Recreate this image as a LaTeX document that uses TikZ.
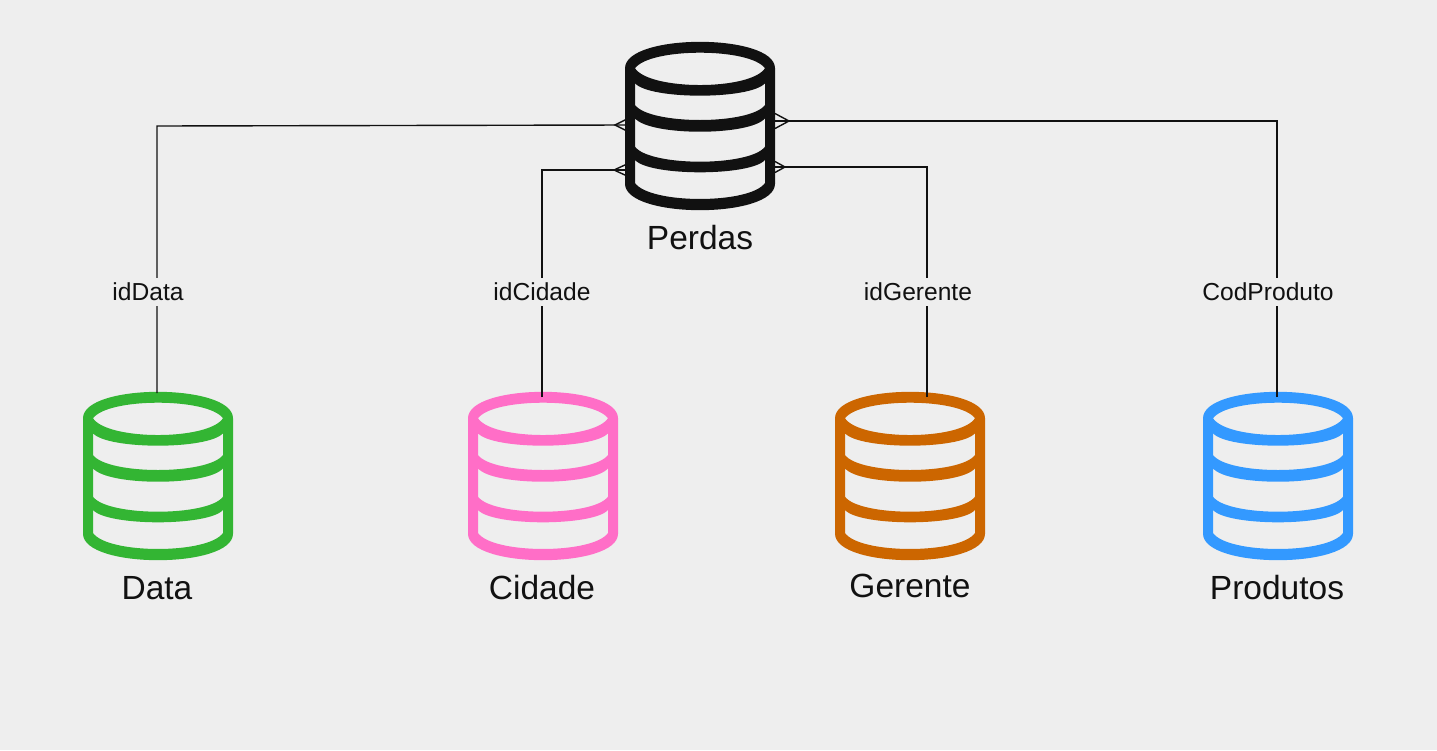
\documentclass[tikz,border=0pt]{standalone}
\usepackage{fontspec}
\setmainfont{Liberation Sans}
\definecolor{fundo}{HTML}{EEEEEE}
\definecolor{tinta}{HTML}{111111}
\definecolor{verde}{HTML}{33B533}
\definecolor{rosa}{HTML}{FF6EC7}
\definecolor{laranja}{HTML}{CC6600}
\definecolor{azul}{HTML}{3399FF}
\tikzset{
	titulo/.style={text=tinta,font=\fontsize{33.5}{36}\selectfont,inner sep=0pt},
	rotulo/.style={text=tinta,font=\fontsize{24.6}{28}\selectfont,fill=fundo,inner xsep=3pt,inner ysep=5pt},
	ligacao/.style={line width=1.4pt,draw=tinta},
	pics/cilindro/.style={code={
		\fill[#1,even odd rule] (-75,-57.7) .. controls (-75,-93) and (75,-93) .. (75,-57.7)
			-- (75,57.7) .. controls (75,93) and (-75,93) .. (-75,57.7) -- cycle
			(-65,-57.7) .. controls (-50,-78.5) and (50,-78.5) .. (65,-57.7)
			.. controls (50,-35.4) and (-50,-35.4) .. (-65,-57.7) -- cycle
			(-65,-42.7) .. controls (-50,-26.2) and (50,-26.2) .. (65,-42.7)
			-- (65,-21) .. controls (50,-1) and (-50,-1) .. (-65,-21) -- cycle
			(-65,-7.7) .. controls (-50,10.2) and (50,10.2) .. (65,-7.7)
			-- (65,20.7) .. controls (50,40.7) and (-50,40.7) .. (-65,20.7) -- cycle
			(-65,34) .. controls (-50,50.4) and (50,50.4) .. (65,34)
			-- (65,57) .. controls (50,78.3) and (-50,78.3) .. (-65,57) -- cycle;
	}},
}
\begin{document}
\begin{tikzpicture}[x=1pt,y=-1pt]
	\fill[fundo] (0,0) rectangle (1437,750);
	\useasboundingbox (0,0) rectangle (1437,750);

	\pic at (700,126) {cilindro=tinta};
	\pic at (158,476) {cilindro=verde};
	\pic at (543,476) {cilindro=rosa};
	\pic at (910,476) {cilindro=laranja};
	\pic at (1278,476) {cilindro=azul};

	\node[titulo] (perdas) at (700,238) {Perdas};
	\node[titulo] (data) at (157,588) {Data};
	\node[titulo] (cidade) at (542,588) {Cidade};
	\node[titulo] (gerente) at (910,586) {Gerente};
	\node[titulo] (produtos) at (1277,588) {Produtos};

	\coordinate (dataTopo) at (157,393);
	\coordinate (cidadeTopo) at (542,397);
	\coordinate (gerenteTopo) at (927,397);
	\coordinate (produtosTopo) at (1277,397);
	\coordinate (perdasA) at (626,125);
	\coordinate (perdasB) at (626,170);
	\coordinate (perdasC) at (775,167);
	\coordinate (perdasD) at (775,121);

	\draw[ligacao] (dataTopo) -- (157,126) -- (perdasA);
	\draw[ligacao] (cidadeTopo) -- (542,170) -- (perdasB);
	\draw[ligacao] (gerenteTopo) -- (927,167) -- (perdasC);
	\draw[ligacao] (produtosTopo) -- (1277,121) -- (perdasD);

	\foreach \nome/\dx/\dy in {perdasA/-11/5.5,perdasB/-12/5.5,perdasC/10/5.5,perdasD/14/7.5}{
		\draw[ligacao] ([yshift=-\dy pt]\nome) -- ([xshift=\dx pt]\nome) -- ([yshift=\dy pt]\nome);
	}

	\node[rotulo] (chaveData) at (148,292) {idData};
	\node[rotulo] (chaveCidade) at (542,292) {idCidade};
	\node[rotulo] (chaveGerente) at (918,292) {idGerente};
	\node[rotulo] (chaveProduto) at (1268,292) {CodProduto};
\end{tikzpicture}
\end{document}
